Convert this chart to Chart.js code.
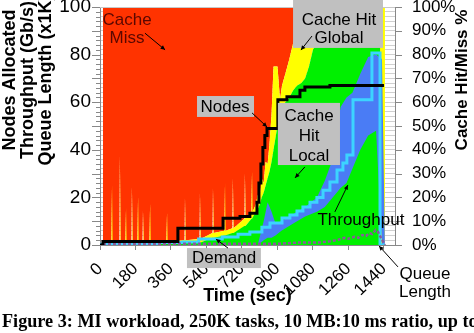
<!DOCTYPE html>
<html>
<head>
<meta charset="utf-8">
<script src="https://cdn.jsdelivr.net/npm/chart.js@4.4.1/dist/chart.umd.min.js"></script>
<style>
  body { margin: 0; background: #fff; }
  #wrap { position: relative; width: 474px; height: 333px; overflow: hidden; }
  #caption { position: absolute; left: 2px; top: 311px; font: bold 18.2px "Liberation Serif", "Times New Roman", serif; white-space: nowrap; color: #000; }
</style>
</head>
<body>
<div id="wrap">
  <canvas id="mlChart" width="474" height="333"></canvas>
  <div id="caption">Figure 3: MI workload, 250K tasks, 10 MB:10 ms ratio, up to</div>
</div>
<script>
// tick labels
const xTicks = [0, 180, 360, 540, 720, 900, 1080, 1260, 1440];
const yTicks = [0, 10, 20, 30, 40, 50, 60, 70, 80, 90, 100];
const pctLabels = ['0%', '10%', '20%', '30%', '40%', '50%', '60%', '70%', '80%', '90%', '100%'];

// cache hit/miss shares (%)
const cacheTimes = [15, 58, 61, 64, 98, 101, 104, 129, 132, 135, 159, 162, 165, 190, 193, 196, 215, 218, 221,
  251, 254, 257, 337, 340, 343, 428, 431, 434, 504, 507, 510, 570, 573, 576, 631, 634, 637, 671, 674, 677,
  732, 735, 738, 768, 771, 774, 790, 800, 810, 820, 830, 840, 850, 860, 870, 880, 890, 900, 913, 923, 940,
  960, 980, 1000, 1020, 1040, 1060, 1080, 1100, 1140, 1200, 1300, 1420, 1425, 1445];
const hitLocal = [0.5, 0.5, 0.5, 0.5, 0.5, 0.5, 0.5, 0.5, 0.5, 0.5, 0.5, 0.5, 0.5, 0.5, 0.5, 0.5, 0.5, 0.5, 0.5,
  0.5, 0.5, 0.5, 0.5, 0.5, 0.5, 1, 1, 1, 1, 1, 1, 3, 3, 3, 4, 4, 4, 5, 5, 5,
  8, 8, 8, 11, 11, 11, 14, 15, 17, 20, 22, 25, 28, 31, 35, 40, 45, 50, 55, 58, 60,
  62, 65, 67, 68, 70, 75, 82, 85, 86, 87, 87, 87, 0, 0];
const hitGlobal = [0.5, 0.5, 25, 0.5, 0.5, 37, 0.5, 0.5, 15, 0.5, 0.5, 24, 0.5, 0.5, 20, 0.5, 0.5, 14, 0.5,
  0.5, 17, 0.5, 1, 13, 1, 1, 19, 1, 1.5, 21, 1.5, 2, 21, 2, 2, 22, 2, 2, 23, 2,
  3, 22, 3, 3, 20, 3, 3, 6, 3, 8, 4, 10, 6, 12, 20, 35, 30, 25, 6, 9, 12,
  16, 20, 25, 29, 30, 25, 18, 15, 14, 13, 13, 13, 100, 100];
const cacheMiss = [99, 99, 74.5, 99, 99, 62.5, 99, 99, 84.5, 99, 99, 75.5, 99, 99, 79.5, 99, 99, 85.5, 99,
  99, 82.5, 99, 98.5, 86.5, 98.5, 98, 80, 98, 97.5, 78, 97.5, 95, 76, 95, 94, 74, 94, 93, 72, 93,
  89, 70, 89, 86, 69, 86, 83, 79, 80, 72, 74, 65, 66, 57, 45, 25, 25, 25, 39, 33, 28,
  22, 15, 8, 3, 0, 0, 0, 0, 0, 0, 0, 0, 0, 0];

// nodes allocated
const nodeTimes = [0, 15, 395, 624, 710, 760, 796, 806, 816, 826, 836, 847, 902, 948, 1014, 1039, 1166, 1440];
const nodesAllocated = [0, 1.5, 7, 11.2, 12, 13.3, 18, 26, 34, 41, 46, 49, 61, 62.3, 65, 66.4, 67, 67];

// demand (Gb/s)
const demandTimes = [0, 300, 420, 500, 620, 700, 760, 821, 862, 923, 963, 999, 1029, 1065, 1100, 1131, 1166,
  1202, 1232, 1252, 1283, 1379, 1420, 1445];
const demand = [0.3, 1, 1.3, 2.5, 3.4, 4.5, 5.5, 7.5, 9.2, 11.3, 12.6, 14.3, 16, 18, 20, 23, 26.5,
  31.5, 34.5, 37.8, 61, 80.7, 0, 0];

// throughput (Gb/s), drawn as the band it swings through
const tputTimes = [800, 830, 850, 870, 890, 920, 980, 1040, 1100, 1140, 1180, 1220, 1250, 1280, 1320, 1360, 1400, 1430, 1445];
const tputLow = [0, 2, 3, 3, 4, 6, 9, 12, 14, 16, 20, 24, 26, 32, 40, 46, 48, 0, 0];
const tputHigh = [0, 10, 18, 14, 9, 10, 13, 16, 20, 27, 36, 58, 62, 64, 72, 79, 80, 78, 0];

// queue length (x1K)
const queueTimes = [15, 900, 1000, 1100, 1160, 1200, 1240, 1260, 1290, 1310, 1330, 1350, 1365, 1380, 1398, 1410, 1425, 1445];
const queueLength = [0.5, 0.5, 1, 1, 1.5, 2, 3, 2.6, 3.4, 3, 4.2, 3.8, 5, 4.6, 6.3, 5.5, 3, 0];

const FONT = '"Liberation Sans", Arial, sans-serif';

// callouts, placed in data units (time, value)
const notes = [
  { text: ['Cache', 'Miss'], at: [137, 90.8], color: '#5a0800', arrow: [228, 89, 330, 82] },
  { text: ['Nodes'], at: [634, 58], box: [492, 62.6, 781, 53.8], arrow: [771, 55.5, 847, 49.6] },
  { text: ['Cache Hit', 'Global'], at: [1212, 90.5], box: [979, 104, 1435, 82.8], arrow: [1075, 87.8, 1019, 81.9] },
  { text: ['Cache', 'Hit', 'Local'], at: [1060, 45.8], box: [902, 59.7, 1217, 33.6], arrow: [1039, 32.8, 989, 28.2], lh: 20 },
  { text: ['Throughput'], at: [1323, 10.5], arrow: [1191, 13.9, 1257, 25.2] },
  { text: ['Demand'], at: [629, -5.5], box: [441, -1.3, 816, -9.7], arrow: [649, -1.3, 588, 2.5] },
  { text: ['Queue', 'Length'], at: [1648, -16], arrow: [1511, -9.2, 1415, -0.4] }
];

function pts(xs, ys) {
  return xs.map((x, i) => ({ x: x, y: ys[i] }));
}

function arrow(ctx, x1, y1, x2, y2) {
  ctx.beginPath();
  ctx.moveTo(x1, y1);
  ctx.lineTo(x2, y2);
  ctx.stroke();
  const a = Math.atan2(y2 - y1, x2 - x1), h = 5;
  ctx.beginPath();
  ctx.moveTo(x2, y2);
  ctx.lineTo(x2 - h * Math.cos(a - 0.45), y2 - h * Math.sin(a - 0.45));
  ctx.lineTo(x2 - h * Math.cos(a + 0.45), y2 - h * Math.sin(a + 0.45));
  ctx.closePath();
  ctx.fill();
}

// keep the plot box where the picture has it
function pin(size) {
  return s => {
    if (size.w) s.width = size.w;
    if (size.h) s.height = size.h;
    s.paddingLeft = s.paddingRight = s.paddingTop = s.paddingBottom = 0;
  };
}

// tick marks, frame line, side titles and callouts
const decor = {
  id: 'decor',
  afterDatasetsDraw(chart) {
    const { ctx, chartArea: a } = chart;
    const ys = chart.scales.y;
    ctx.save();
    ctx.strokeStyle = '#888';
    ctx.lineWidth = 1;
    for (let v = 0; v <= 100; v += 2) {
      const py = Math.round(ys.getPixelForValue(v)) + 0.5;
      const major = v % 10 === 0;
      ctx.beginPath();
      ctx.moveTo(a.left - (major ? 8 : 4), py);
      ctx.lineTo(a.left, py);
      ctx.stroke();
      if (major) {
        ctx.beginPath();
        ctx.moveTo(a.right, py);
        ctx.lineTo(a.right + 7, py);
        ctx.stroke();
      }
    }
    ctx.strokeStyle = '#c8c8c8';
    ctx.beginPath();
    ctx.moveTo(a.left, a.top + 0.5);
    ctx.lineTo(a.right, a.top + 0.5);
    ctx.stroke();
    ctx.restore();
  },
  afterDraw(chart) {
    const { ctx } = chart;
    const xs = chart.scales.x, ys = chart.scales.y;
    const px = t => xs.getPixelForValue(t);
    const py = v => ys.getPixelForValue(v);
    ctx.save();

    // side titles
    ctx.fillStyle = '#000';
    ctx.textAlign = 'center';
    ctx.textBaseline = 'middle';
    [['Nodes Allocated', 10, 18], ['Throughput (Gb/s)', 28, 18], ['Queue Length (x1K)', 46, 18], ['Cache Hit/Miss %', 462, 17]].forEach(([s, x, size]) => {
      ctx.save();
      ctx.font = 'bold ' + size + 'px ' + FONT;
      ctx.translate(x, 80);
      ctx.rotate(-Math.PI / 2);
      ctx.fillText(s, 0, 0);
      ctx.restore();
    });

    // callouts
    ctx.font = '17px ' + FONT;
    notes.forEach(n => {
      if (n.box) {
        const x1 = px(n.box[0]), y1 = py(n.box[1]), x2 = px(n.box[2]), y2 = py(n.box[3]);
        ctx.fillStyle = '#c0c0c0';
        ctx.fillRect(x1, y1, x2 - x1, y2 - y1);
      }
      ctx.strokeStyle = '#000';
      ctx.fillStyle = '#000';
      ctx.lineWidth = 1;
      arrow(ctx, px(n.arrow[0]), py(n.arrow[1]), px(n.arrow[2]), py(n.arrow[3]));
      const lh = n.lh || 18;
      const cx = px(n.at[0]), cy = py(n.at[1]) - (n.text.length - 1) * lh / 2;
      ctx.fillStyle = n.color || '#000';
      n.text.forEach((s, i) => ctx.fillText(s, cx, cy + i * lh));
    });
    ctx.restore();
  }
};

const tickFont = { family: FONT, size: 17 };

new Chart(document.getElementById('mlChart').getContext('2d'), {
  type: 'line',
  data: {
    datasets: [
      { label: 'Cache Hit Local', data: pts(cacheTimes, hitLocal), yAxisID: 'y2', backgroundColor: '#00f000', borderWidth: 0, fill: 'origin', order: 10 },
      { label: 'Cache Hit Global', data: pts(cacheTimes, hitGlobal), yAxisID: 'y2', backgroundColor: '#ffff00', borderWidth: 0, fill: '-1', order: 10 },
      { label: 'Cache Miss', data: pts(cacheTimes, cacheMiss), yAxisID: 'y2', backgroundColor: '#ff3300', borderWidth: 0, fill: '-1', order: 10 },
      { label: 'Throughput low', data: pts(tputTimes, tputLow), yAxisID: 'y', borderWidth: 0, fill: false, order: 5 },
      { label: 'Throughput', data: pts(tputTimes, tputHigh), yAxisID: 'y', backgroundColor: '#4a7cf5', borderWidth: 0, fill: '-1', order: 5 },
      { label: 'Demand', data: pts(demandTimes, demand), yAxisID: 'y', borderColor: '#3cd4ff', borderWidth: 3, stepped: true, fill: false, order: 3 },
      { label: 'Queue Length', data: pts(queueTimes, queueLength), yAxisID: 'y', borderColor: '#8a5a9a', borderWidth: 2.5, borderDash: [3, 2], fill: false, order: 2 },
      { label: 'Nodes', data: pts(nodeTimes, nodesAllocated), yAxisID: 'y', borderColor: '#000', borderWidth: 3, stepped: true, fill: false, order: 1 }
    ]
  },
  options: {
    responsive: false,
    animation: false,
    layout: { padding: { top: 7, left: 0, right: 0, bottom: 0 } },
    elements: { point: { radius: 0 }, line: { tension: 0 } },
    plugins: { legend: { display: false }, tooltip: { enabled: false } },
    scales: {
      x: {
        type: 'linear', min: 0, max: 1496,
        afterBuildTicks: s => { s.ticks = xTicks.map(v => ({ value: v })); },
        ticks: { minRotation: 45, maxRotation: 45, autoSkip: false, padding: 9, color: '#000', font: tickFont, callback: v => String(v) },
        grid: { drawOnChartArea: false, tickLength: 5, tickColor: '#888' },
        border: { color: '#888' },
        title: { display: true, text: 'Time (sec)', color: '#000', font: { family: FONT, size: 18, weight: 'bold' }, padding: { top: 0, bottom: 26 } },
        afterFit: pin({ h: 88 })
      },
      y: {
        position: 'left', min: 0, max: 100,
        afterBuildTicks: s => { s.ticks = yTicks.map(v => ({ value: v })); },
        ticks: { color: '#000', font: { family: FONT, size: 19 }, padding: 9 },
        grid: { drawOnChartArea: false, drawTicks: false },
        border: { color: '#888' },
        afterFit: pin({ w: 100 })
      },
      y2: {
        position: 'right', min: 0, max: 100, stacked: true,
        ticks: { stepSize: 2, autoSkip: false, color: '#000', font: tickFont, padding: 17,
          callback: v => (v % 10 === 0 ? pctLabels[v / 10] : '') },
        grid: { color: '#d0d0d0', drawTicks: false },
        border: { color: '#888' },
        afterFit: pin({ w: 79 })
      }
    }
  },
  plugins: [decor]
});
</script>
</body>
</html>
